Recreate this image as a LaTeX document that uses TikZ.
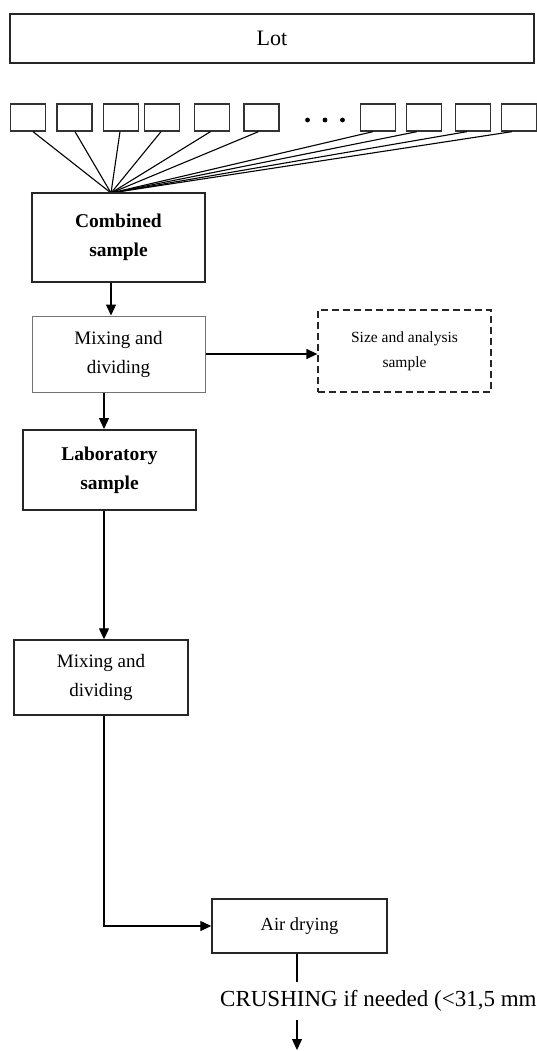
\documentclass[tikz,border=0pt]{standalone}
\usepackage{fontspec}
\setmainfont{Liberation Serif}
\usetikzlibrary{arrows.meta,positioning}

\tikzset{
    caja/.style={draw=black!85, line width=1.4pt, minimum width=173pt, inner sep=0pt, align=center},
    cajita/.style={draw=black!80, line width=1.3pt, minimum width=35pt, minimum height=27pt, inner sep=0pt},
    flecha/.style={-{Triangle[length=11pt,width=10pt]}, line width=1.3pt},
    texto/.style={font=\fontsize{19}{29}\selectfont},
    negrita/.style={font=\fontsize{19.5}{29}\selectfont\bfseries}
}

\begin{document}
\begin{tikzpicture}[x=1pt, y=-1pt]
    \useasboundingbox (0,0) rectangle (537,1051);

    % Lote
    \node[caja, line width=2pt, minimum width=524pt, minimum height=49pt,
          font=\fontsize{22}{26}\selectfont] (lot) at (272,38.5) {Lot};

    % Incrementos
    \foreach \x [count=\i] in {28,74.5,121,162,212,261.5,378,424,473,519}
        \node[cajita] (b\i) at (\x,117.5) {};
    \foreach \x in {307.5,325,342.5}
        \fill (\x,120) circle (2.4);

    % Muestra combinada
    \coordinate (fan) at (111,193);
    \foreach \i/\dx in {1/5,2/0.5,3/-1,4/-1,5/-1.5,6/-3,7/-5,8/-7,9/-6,10/-7}
        \draw[line width=1.1pt] ([xshift=\dx]b\i.south) -- (fan);
    \node[caja, line width=2pt, minimum height=89pt, negrita]
        (comb) at (118.5,237.5) {Combined\\sample};

    % Mezclado y division
    \node[caja, draw=black!55, line width=1pt, minimum height=76pt, texto]
        (mix1) at (118.5,354) {Mixing and\\dividing};
    \node[caja, dash pattern=on 7pt off 4pt, line width=1.3pt, minimum height=82pt,
          font=\fontsize{15.5}{25}\selectfont] (size) at (404.5,351)
        {Size and analysis\\sample};

    % Muestra de laboratorio
    \node[caja, line width=2pt, minimum height=80pt, negrita]
        (lab) at (109.5,470) {Laboratory\\sample};
    \node[caja, minimum width=174pt, minimum height=75pt, texto]
        (mix2) at (101,677.5) {Mixing and\\dividing};

    % Secado
    \node[caja, minimum width=175pt, minimum height=54pt,
          font=\fontsize{18.5}{24}\selectfont] (air) at (299.5,926) {Air drying};
    \node[anchor=west, inner sep=0pt, minimum height=38pt,
          font=\fontsize{23}{28}\selectfont] (crush) at (220,1001)
        {CRUSHING if needed (<31,5 mm)};
    \coordinate (spine) at (104,0);
    \coordinate (out) at (297,1050);

    % Flechas
    \draw[flecha] (comb.south -| fan) -- (mix1.north -| fan);
    \draw[flecha] (mix1.east) -- (mix1.east -| size.west);
    \draw[flecha] (mix1.south -| spine) -- (lab.north -| spine);
    \draw[flecha] (lab.south -| spine) -- (mix2.north -| spine);
    \draw[flecha] (mix2.south -| spine) |- (air.west);
    \draw[line width=1.3pt] (air.south -| out) -- (crush.north -| out);
    \draw[flecha] (crush.south -| out) -- (out);
\end{tikzpicture}
\end{document}
